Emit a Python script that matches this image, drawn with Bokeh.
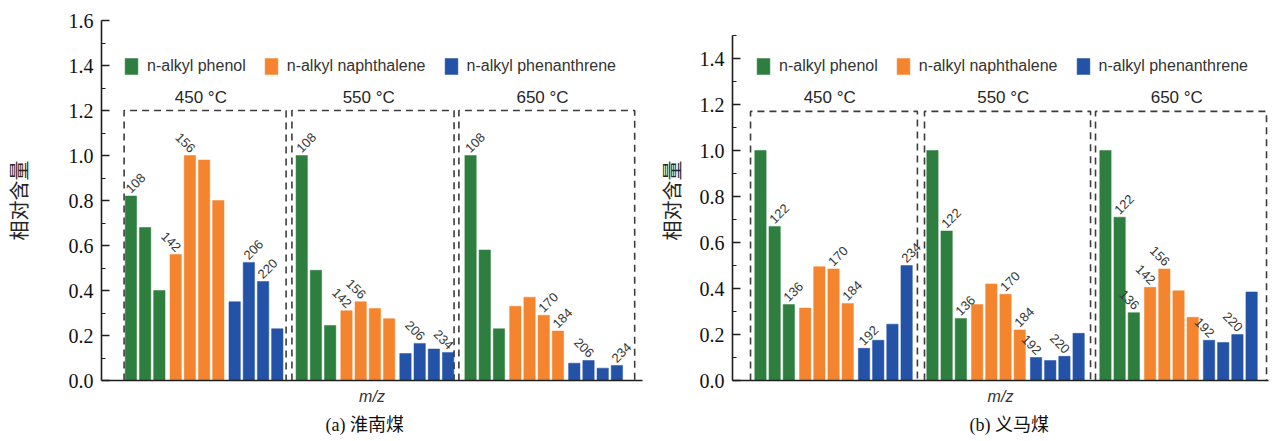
from bokeh.plotting import figure
from bokeh.layouts import row
from bokeh.models import (Range1d, FixedTicker, PrintfTickFormatter, Title,
                          Legend, LegendItem, ColumnDataSource)
from bokeh.core.properties import value
from bokeh.embed import file_html
from bokeh.resources import INLINE

# ---------------- data ----------------
temps = ["450 °C", "550 °C", "650 °C"]
series = ["n-alkyl phenol", "n-alkyl naphthalene", "n-alkyl phenanthrene"]
colors = ["#2e7f3f", "#f5842f", "#2352a6"]

# (a) 淮南煤  — one list per temperature
a_phenol = [[0.82, 0.68, 0.40], [1.00, 0.49, 0.245], [1.00, 0.58, 0.23]]
a_naph = [[0.56, 1.00, 0.98, 0.80], [0.31, 0.35, 0.32, 0.275], [0.33, 0.37, 0.29, 0.22]]
a_phen = [[0.35, 0.525, 0.44, 0.23], [0.12, 0.165, 0.14, 0.125], [0.077, 0.089, 0.055, 0.067]]
a_labels = [["108", "", "", "142", "156", "", "", "", "206", "220", ""],
            ["108", "", "", "142", "156", "", "", "", "206", "", "234"],
            ["108", "", "", "", "", "170", "184", "", "206", "", "234"]]
a_dirs = [["u", "", "", "d", "d", "", "", "", "u", "u", ""],
          ["u", "", "", "d", "d", "", "", "", "d", "", "d"],
          ["u", "", "", "", "", "u", "u", "", "d", "", "u"]]

# (b) 义马煤
b_phenol = [[1.00, 0.67, 0.33], [1.00, 0.65, 0.27], [1.00, 0.71, 0.295]]
b_naph = [[0.315, 0.495, 0.485, 0.335], [0.33, 0.42, 0.375, 0.22], [0.405, 0.485, 0.39, 0.275]]
b_phen = [[0.14, 0.175, 0.245, 0.50], [0.10, 0.087, 0.105, 0.205], [0.175, 0.165, 0.20, 0.385]]
b_labels = [["", "122", "136", "", "", "170", "184", "192", "", "", "234"],
            ["", "122", "136", "", "", "170", "184", "192", "", "220", ""],
            ["", "122", "136", "142", "156", "", "", "192", "", "220", ""]]
b_dirs = [["", "u", "u", "", "", "u", "u", "u", "", "", "u"],
          ["", "u", "u", "", "", "u", "u", "d", "", "d", ""],
          ["", "u", "d", "d", "d", "", "", "d", "", "d", ""]]

y_label = "相对含量"
x_label = "m/z"

# ---------------- layout constants ----------------
IN_GROUP = [0, 1, 2, 3.15, 4.15, 5.15, 6.15, 7.3, 8.3, 9.3, 10.3]
BAR_W = 0.8
SANS = "Liberation Sans"
SERIF = "Liberation Serif"
CJK = "Noto Sans CJK SC"
TXT = "#262626"
H, BT, FH = 441, 20, 360


def panel(phenol, naph, phen, labels, dirs, cfg):
    p = figure(width=cfg["width"], height=H, output_backend="svg",
               toolbar_location=None,
               x_range=Range1d(*cfg["xr"]), y_range=Range1d(0, cfg["ytop"]),
               min_border_left=cfg["bl"], min_border_right=cfg["br"],
               min_border_top=BT, min_border_bottom=H - BT - FH)
    p.outline_line_color = None
    p.xgrid.visible = False
    p.ygrid.visible = False
    p.background_fill_color = "white"

    renderers = []
    for si, vals in enumerate([phenol, naph, phen]):
        xs, tops = [], []
        for g in range(3):
            start = [0, 3, 7][si]
            for k, v in enumerate(vals[g]):
                xs.append(cfg["goff"][g] + IN_GROUP[start + k])
                tops.append(v)
        r = p.vbar(x=xs, top=tops, width=BAR_W, fill_color=colors[si],
                   line_color=colors[si], line_width=0.5)
        renderers.append(r)

    # peak labels
    up = dict(x=[], y=[], t=[])
    dn = dict(x=[], y=[], t=[])
    allvals = [phenol[g] + naph[g] + phen[g] for g in range(3)]
    for g in range(3):
        for k in range(11):
            lab = labels[g][k]
            if not lab:
                continue
            d = up if dirs[g][k] == "u" else dn
            d["x"].append(cfg["goff"][g] + IN_GROUP[k])
            d["y"].append(allvals[g][k])
            d["t"].append(lab)
    p.text(x="x", y="y", text="t", source=ColumnDataSource(up), angle=45,
           angle_units="deg", text_align="left", text_baseline="bottom",
           y_offset=-2, text_font=value(SANS), text_font_size="13px",
           text_color="#383838")
    p.text(x="x", y="y", text="t", source=ColumnDataSource(dn), angle=-45,
           angle_units="deg", text_align="right", text_baseline="bottom",
           y_offset=-2, text_font=value(SANS), text_font_size="13px",
           text_color="#383838")

    # dashed temperature boxes
    top = cfg["boxtop"]
    for g, (l, rr) in enumerate(cfg["boxes"]):
        p.line(x=[l, l, rr, rr], y=[0, top, top, 0], line_dash="7 5",
               line_color="#3c3c3c", line_width=1.6)
    p.text(x=[(l + rr) / 2 - 0.3 for l, rr in cfg["boxes"]], y=[top] * 3,
           text=temps, text_align="center", text_baseline="bottom", y_offset=-4,
           text_font=value(SANS), text_font_size="17px", text_color=TXT)

    # axes
    ymax = cfg["ymax"]
    n = int(round(ymax / 0.2))
    yt = [round(0.2 * i, 1) for i in range(n + 1)]
    ym = [round(0.1 + 0.2 * i, 1) for i in range(n + 1) if 0.1 + 0.2 * i <= ymax + 1e-6]
    p.yaxis.ticker = FixedTicker(ticks=yt, minor_ticks=ym)
    p.yaxis.bounds = (0, ymax)
    p.yaxis.formatter = PrintfTickFormatter(format="%.1f")
    p.yaxis.major_tick_in = 8
    p.yaxis.major_tick_out = 0
    p.yaxis.minor_tick_in = 4
    p.yaxis.minor_tick_out = 0
    p.yaxis.major_label_standoff = 8
    p.yaxis.major_label_text_font = SERIF
    p.yaxis.major_label_text_font_size = "20px"
    p.yaxis.major_label_text_color = "#111111"
    p.yaxis.axis_label = y_label
    p.yaxis.axis_label_standoff = cfg["ystand"]
    p.yaxis.axis_label_text_font = CJK
    p.yaxis.axis_label_text_font_size = "20px"
    p.yaxis.axis_label_text_font_style = "normal"
    p.yaxis.axis_label_text_color = TXT
    for ax in (p.yaxis, p.xaxis):
        ax.axis_line_width = 1.6
        ax.axis_line_color = "#1e1e1e"
        ax.major_tick_line_color = "#1e1e1e"
        ax.minor_tick_line_color = "#1e1e1e"
        ax.major_tick_line_width = 1.4
    p.xaxis.ticker = FixedTicker(ticks=[])
    p.xaxis.major_tick_line_color = None
    p.xaxis.minor_tick_line_color = None
    p.xaxis.major_tick_out = 0
    p.xaxis.major_label_standoff = 0
    p.xaxis.major_label_text_font_size = "0px"
    p.xaxis.axis_label = x_label
    p.xaxis.axis_label_standoff = 7
    p.xaxis.axis_label_text_font = SANS
    p.xaxis.axis_label_text_font_style = "italic"
    p.xaxis.axis_label_text_font_size = "16px"
    p.xaxis.axis_label_text_color = "#333333"

    # caption below
    p.add_layout(Title(text=cfg["caption"], align="left", offset=cfg["capoff"],
                       standoff=10, text_font="Liberation Serif, Noto Sans CJK SC",
                       text_font_size="18px", text_font_style="normal",
                       text_color="#111111"), "below")

    # legend
    items = [LegendItem(label=series[i], renderers=[renderers[i]]) for i in range(3)]
    leg = Legend(items=items, orientation="horizontal", location=cfg["legloc"],
                 padding=0, margin=0, spacing=17, label_standoff=8,
                 glyph_width=16, glyph_height=20, border_line_color=None,
                 background_fill_alpha=0, label_text_font=SANS,
                 label_text_font_size="16px", label_text_color="#333333",
                 label_height=20)
    p.add_layout(leg)
    return p


cfg_a = dict(width=650, bl=91, br=8, ymax=1.6, ytop=1.6,
             xr=(-2.07, 36.0), goff=[0, 12.02, 23.9],
             boxes=[(-0.48, 10.92), (11.33, 22.74), (23.08, 35.45)], boxtop=1.2,
             legloc=(22, 304), ystand=33, capoff=224, caption="(a) 淮南煤")
cfg_b = dict(width=620, bl=82, br=2, ymax=1.5, ytop=1.5 * 360 / 345,
             xr=(-1.97, 35.8), goff=[0, 12.12, 24.31],
             boxes=[(-0.70, 11.06), (11.56, 23.26), (23.61, 35.66)], boxtop=1.17,
             legloc=(23, 304), ystand=11, capoff=237, caption="(b) 义马煤")

pa = panel(a_phenol, a_naph, a_phen, a_labels, a_dirs, cfg_a)
pb = panel(b_phenol, b_naph, b_phen, b_labels, b_dirs, cfg_b)

layout = row(pa, pb)
open("out.html", "w").write(file_html(layout, INLINE))
